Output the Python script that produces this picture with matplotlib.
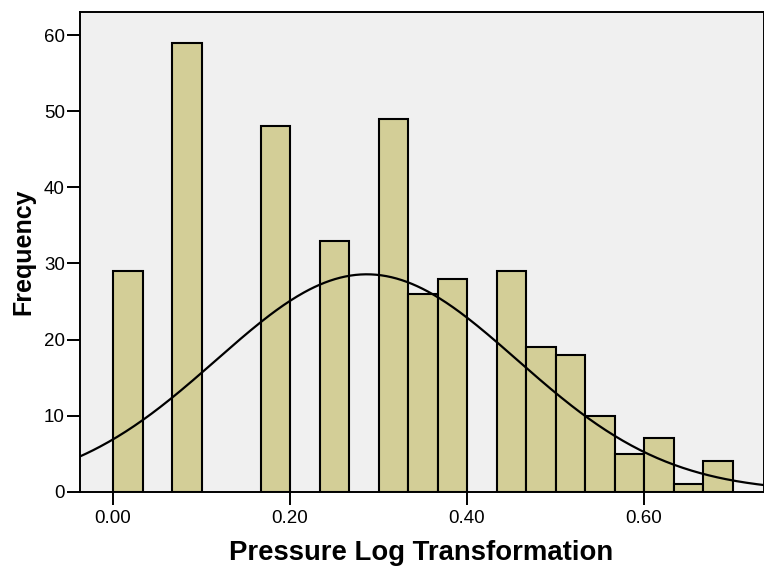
import numpy as np
import matplotlib
matplotlib.use("Agg")
import matplotlib.pyplot as plt

plt.rcParams['font.family'] = ['Liberation Sans', 'DejaVu Sans']

# Histogram data (bin index k covers [k/30, (k+1)/30])
bin_width = 1.0 / 30.0
bin_index = [0, 2, 5, 7, 9, 10, 11, 13, 14, 15, 16, 17, 18, 19, 20]
counts = [29, 59, 48, 33, 49, 26, 28, 29, 19, 18, 10, 5, 7, 1, 4]

# Normal curve parameters
mean = 0.2867
std_dev = 0.1699

x_ticks = [0.0, 0.2, 0.4, 0.6]
x_tick_labels = ["0.00", "0.20", "0.40", "0.60"]
y_ticks = [0, 10, 20, 30, 40, 50, 60]

W, H = 764, 567
fig = plt.figure(figsize=(W / 100, H / 100), dpi=100)
left, right, bottom, top = 79.5, 763.5, 491.7, 12.3
ax = fig.add_axes([left / W, 1 - bottom / H, (right - left) / W, (bottom - top) / H])
ax.set_facecolor('#F0F0F0')

lefts = [k * bin_width for k in bin_index]
ax.bar(lefts, counts, width=bin_width, align='edge', color='#D3CE97',
       edgecolor='black', linewidth=1.5, zorder=2)

xmin, xmax = -0.0379, 0.735
xs = np.linspace(xmin, xmax, 400)
N = sum(counts)
ys = N * bin_width / (std_dev * np.sqrt(2 * np.pi)) * np.exp(-0.5 * ((xs - mean) / std_dev) ** 2)
ax.plot(xs, ys, color='black', linewidth=1.6, zorder=3)

ax.set_xlim(xmin, xmax)
ax.set_ylim(0, 63.0)
ax.set_xticks(x_ticks)
ax.set_xticklabels(x_tick_labels)
ax.set_yticks(y_ticks)
ax.tick_params(axis='both', direction='out', length=9.5, width=1.4, labelsize=13.5, colors='black')
ax.tick_params(axis='x', pad=4)
ax.tick_params(axis='y', pad=1)
for s in ax.spines.values():
    s.set_linewidth(1.4)
    s.set_color('black')

ax.set_xlabel('Pressure Log Transformation', fontsize=19.8, fontweight='bold', labelpad=9)
ax.set_ylabel('Frequency', fontsize=18, fontweight='bold', labelpad=6)

fig.savefig('out.png', dpi=100, facecolor='white')
